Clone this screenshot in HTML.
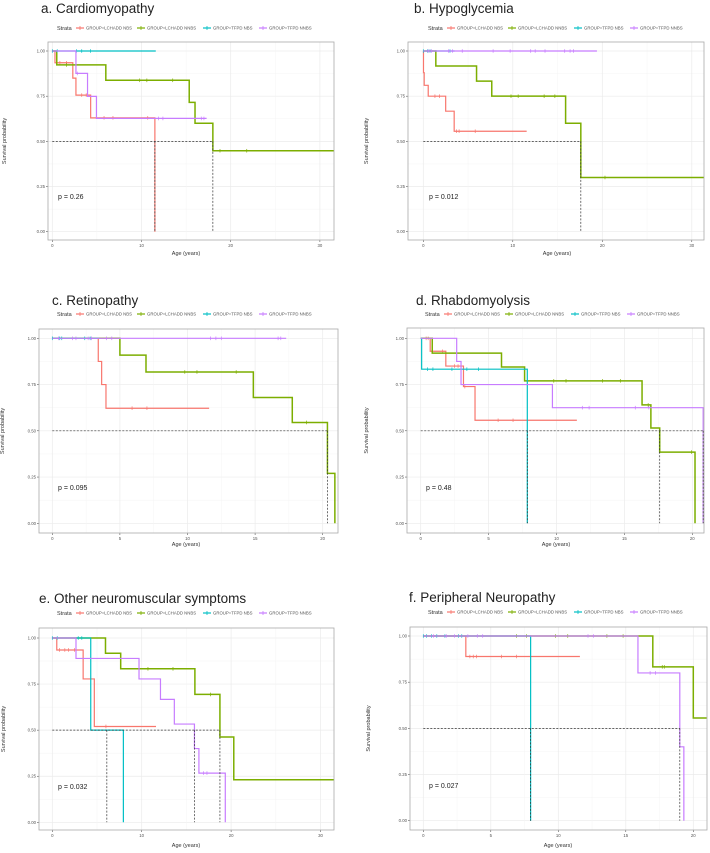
<!DOCTYPE html>
<html><head><meta charset="utf-8"><style>
html,body{margin:0;padding:0;background:#fff;}
svg{display:block;font-family:"Liberation Sans",sans-serif;}
</style></head><body>
<svg id="fig" width="710" height="853" viewBox="0 0 710 853" xmlns="http://www.w3.org/2000/svg"></svg>
<script>
// ---------- data (years / survival probability) ----------
const strataNames = ["GROUP=LCHADD NBS","GROUP=LCHADD NNBS","GROUP=TFPD NBS","GROUP=TFPD NNBS"];
const strataColors = ["#F8766D","#7CAE00","#00BFC4","#C77CFF"];
const titles = ["a. Cardiomyopathy","b. Hypoglycemia","c. Retinopathy","d. Rhabdomyolysis","e. Other neuromuscular symptoms","f. Peripheral Neuropathy"];
const pValues = ["p = 0.26","p = 0.012","p = 0.095","p = 0.48","p = 0.032","p = 0.027"];
const yTicks = [0,0.25,0.5,0.75,1];
const yTickLabels = ["0.00","0.25","0.50","0.75","1.00"];
const xTicksA = [0,10,20,30];
const xTicksB = [0,5,10,15,20];

// panel a
const aTimes = [[0.3,2.3,2.65,4.3,11.5],[0.5,6.0,15.35,16.0,18.0],[],[2.65,3.95,4.95]];
const aSurv  = [[0.935,0.85,0.756,0.63,0],[0.923,0.838,0.716,0.60,0.448],[],[0.876,0.749,0.627]];
const aEnd   = [11.5,31.6,11.6,17.3];
const aCens  = [[0.85,1.6,3.3,3.8,5.8,6.8,10.7],[1.6,9.8,10.6,13.5,18.8,21.8],[0,0.55,2.7,3.3,4.3],[2.8,11.9,12.4,16.7,17.0]];
const aMedH = 18.0, aMedV = [11.5,18.0];
// panel b
const bTimes = [[0.02,0.1,0.55,2.5,3.45],[1.4,5.95,7.65,15.9,17.6],[],[]];
const bSurv  = [[0.88,0.81,0.75,0.667,0.556],[0.917,0.833,0.75,0.6,0.3],[],[]];
const bEnd   = [11.55,31.6,3.5,19.4];
const bCens  = [[1.3,1.8,3.7,4.0,5.8],[9.8,10.6,13.5,14.7,20.3],[0,0.5,0.75,2.98],[0.55,0.9,2.8,3.25,4.35,7.8,9.7,12.0,12.5,13.6,15.8,16.4,16.8]];
const bMedH = 17.6, bMedV = [17.6];
// panel c
const cTimes = [[3.4,3.65,3.97],[5.0,6.93,14.87,17.75,20.35,20.9],[],[]];
const cSurv  = [[0.875,0.75,0.622],[0.909,0.818,0.68,0.545,0.27,0],[],[]];
const cEnd   = [11.6,20.9,3.45,17.3];
const cCens  = [[5.9,7.0],[9.8,10.7,13.6,18.8],[0,0.55,0.7,2.4,2.8],[0.45,1.5,1.75,2.65,2.9,4.0,4.4,11.7,12.1,12.5,16.7,16.9]];
const cMedH = 20.35, cMedV = [20.35];
// panel d
const dTimes = [[0.7,1.85,3.15,4.0],[0.85,5.95,7.65,16.3,16.95,17.6,20.2],[0.07,7.85],[2.65,2.97,9.7,20.8]];
const dSurv  = [[0.93,0.85,0.739,0.557],[0.92,0.845,0.77,0.64,0.515,0.385,0],[0.833,0],[0.875,0.75,0.625,0]];
const dEnd   = [11.5,20.2,7.85,20.8];
const dCens  = [[0.4,0.55,1.6,2.5,2.75,3.25,5.7,6.8],[9.8,10.7,13.4,14.7,16.75,19.95],[0.5,0.9,2.3,3.4,4.25],[11.9,12.4,15.8,16.8]];
const dMedH = 20.8, dMedV = [7.85,17.6,20.8];
// panel e
const eTimes = [[0.5,3.45,4.7],[5.95,7.65,15.95,18.75,20.3],[4.3,7.95],[2.65,9.7,12.1,13.65,15.9,16.4,19.35]];
const eSurv  = [[0.935,0.778,0.52],[0.917,0.833,0.694,0.463,0.231],[0.5,0],[0.889,0.778,0.667,0.533,0.40,0.267,0]];
const eEnd   = [11.6,31.6,7.95,19.35];
const eCens  = [[0.8,1.4,1.8,2.5,6.0],[10.7,13.5,17.7],[0,0.55,2.9,3.3],[16.9,17.3]];
const eMedH = 18.75, eMedV = [6.1,15.9,18.75];
// panel f
const fTimes = [[3.15],[17.0,20.0],[7.95],[15.9,19.0,19.3]];
const fSurv  = [[0.889],[0.833,0.556],[0],[0.8,0.4,0]];
const fEnd   = [11.6,21.0,7.95,19.3];
const fCens  = [[3.45,3.7,3.95,5.8,6.9],[6.9,7.65,9.8,10.7,13.6,14.8,17.7,17.85],[0,0.25,0.6,1.0,1.6,2.6,2.85],[0.75,1.7,2.3,3.3,4.0,4.4,12.2,12.6,16.8,17.2]];
const fMedH = 19.0, fMedV = [7.95,19.0];

// ---------- layout ----------
const panels = [
 {id:"a",times:aTimes,surv:aSurv,end:aEnd,cens:aCens,medH:aMedH,medV:aMedV,xt:xTicksA,
  box:[48,42,334,240],x0:52.3,ppy:8.92,y1:51,y0:231.7,title:[41,13],leg:[57,28],p:[58,199],ytl:6,xtl:[186,255]},
 {id:"b",times:bTimes,surv:bSurv,end:bEnd,cens:bCens,medH:bMedH,medV:bMedV,xt:xTicksA,
  box:[408,42,704,240],x0:423.3,ppy:8.95,y1:51,y0:231.7,title:[414,13],leg:[428,28],p:[429,199],ytl:368,xtl:[557,255]},
 {id:"c",times:cTimes,surv:cSurv,end:cEnd,cens:cCens,medH:cMedH,medV:cMedV,xt:xTicksB,
  box:[39,329,338,533],x0:52.3,ppy:13.52,y1:338.3,y0:523.3,title:[52,305],leg:[57,314],p:[58,490],ytl:4,xtl:[186,546]},
 {id:"d",times:dTimes,surv:dSurv,end:dEnd,cens:dCens,medH:dMedH,medV:dMedV,xt:xTicksB,
  box:[407,328,704,533],x0:420.7,ppy:13.58,y1:338.3,y0:523.3,title:[416,305],leg:[425,314],p:[426,490],ytl:368,xtl:[556,546]},
 {id:"e",times:eTimes,surv:eSurv,end:eEnd,cens:eCens,medH:eMedH,medV:eMedV,xt:xTicksA,
  box:[39,628,334,830],x0:52.3,ppy:8.94,y1:638,y0:822.3,title:[39,603],leg:[57,613],p:[58,789],ytl:5,xtl:[186,847]},
 {id:"f",times:fTimes,surv:fSurv,end:fEnd,cens:fCens,medH:fMedH,medV:fMedV,xt:xTicksB,
  box:[410,627,707,830],x0:423.3,ppy:13.5,y1:636,y0:820.7,title:[409,602],leg:[428,612],p:[429,788],ytl:370,xtl:[558,847]}
];

const NS="http://www.w3.org/2000/svg";
const svg=document.getElementById("fig");
function mk(tag,attrs,parent){const e=document.createElementNS(NS,tag);for(const k in attrs)e.setAttribute(k,attrs[k]);(parent||svg).appendChild(e);return e;}

panels.forEach((P,pi)=>{
  const g=mk("g",{});
  
  
  const X=t=>P.x0+t*P.ppy;
  const Y=s=>P.y0-(P.y0-P.y1)*s;
  const [bx0,by0,bx1,by1]=P.box;
  const clip=mk("clipPath",{id:"clip"+P.id},g);
  mk("rect",{x:bx0,y:by0,width:bx1-bx0,height:by1-by0},clip);

  // title
  const tt=mk("text",{x:P.title[0],y:P.title[1],"font-size":"13.5",fill:"#222"},g);
  tt.textContent=titles[pi];
  
  

  // legend
  const lg=mk("g",{},g);
  
  
  const ly=P.leg[1];
  const st=mk("text",{x:P.leg[0],y:ly+2,"font-size":"5.5",fill:"#333"},lg);st.textContent="Strata";
  const offs=[19,80,146,202];
  strataNames.forEach((n,i)=>{
    const lx=P.leg[0]+offs[i];
    const le=mk("g",{},lg);
    
    
    mk("line",{x1:lx,y1:ly,x2:lx+8,y2:ly,stroke:strataColors[i],"stroke-width":1.2},le);
    mk("line",{x1:lx+4,y1:ly-2,x2:lx+4,y2:ly+2,stroke:strataColors[i],"stroke-width":0.8},le);
    const t=mk("text",{x:lx+10,y:ly+1.6,"font-size":"4.3",fill:"#555"},le);t.textContent=n;
  });

  // panel background + grid
  mk("rect",{x:bx0,y:by0,width:bx1-bx0,height:by1-by0,fill:"#fff"},g);
  const grid=mk("g",{},g);
  
  
  for(let i=0;i<yTicks.length;i++){
    mk("line",{x1:bx0,x2:bx1,y1:Y(yTicks[i]),y2:Y(yTicks[i]),stroke:"#ebebeb","stroke-width":0.7},grid);
    if(i<yTicks.length-1){const m=(yTicks[i]+yTicks[i+1])/2;mk("line",{x1:bx0,x2:bx1,y1:Y(m),y2:Y(m),stroke:"#f4f4f4","stroke-width":0.5},grid);}
  }
  const step=P.xt[1]-P.xt[0];
  for(let v=P.xt[0];X(v)<=bx1+0.1;v+=step/2){
    const major=Math.abs(v/step-Math.round(v/step))<1e-6;
    mk("line",{x1:X(v),x2:X(v),y1:by0,y2:by1,stroke:major?"#ebebeb":"#f4f4f4","stroke-width":major?0.7:0.5},grid);
  }

  // ticks & labels
  yTicks.forEach((v,i)=>{
    mk("line",{x1:bx0-2,x2:bx0,y1:Y(v),y2:Y(v),stroke:"#333","stroke-width":0.5},g);
    const t=mk("text",{x:bx0-3,y:Y(v)+1.5,"font-size":"4.3","text-anchor":"end",fill:"#555"},g);t.textContent=yTickLabels[i];
    
    
  });
  P.xt.forEach(v=>{
    mk("line",{x1:X(v),x2:X(v),y1:by1,y2:by1+2,stroke:"#333","stroke-width":0.5},g);
    const t=mk("text",{x:X(v),y:by1+7,"font-size":"4.3","text-anchor":"middle",fill:"#555"},g);t.textContent=String(v);
    
    
  });
  const xt=mk("text",{x:P.xtl[0],y:P.xtl[1],"font-size":"5.5","text-anchor":"middle",fill:"#333"},g);xt.textContent="Age (years)";
  
  
  const cy=(by0+by1)/2;
  const yt=mk("text",{x:P.ytl,y:cy,"font-size":"5.5","text-anchor":"middle",fill:"#333",transform:`rotate(-90 ${P.ytl} ${cy})`},g);yt.textContent="Survival probability";
  
  

  // curves
  const cg=mk("g",{"clip-path":`url(#clip${P.id})`},g);
  P.times.forEach((ts,i)=>{
    let d=`M${X(0)},${Y(1)}`;let s=1;
    ts.forEach((t,k)=>{d+=` H${X(t)} V${Y(P.surv[i][k])}`;s=P.surv[i][k];});
    d+=` H${X(P.end[i])}`;
    const path=mk("path",{d:d,fill:"none",stroke:strataColors[i],"stroke-width":i===1?1.5:1.2},cg);
    
    
    // censor marks
    P.cens[i].forEach(c=>{
      let sv=1;ts.forEach((t,k)=>{if(t<=c)sv=P.surv[i][k];});
      const m=mk("line",{x1:X(c),x2:X(c),y1:Y(sv)-1.8,y2:Y(sv)+1.8,stroke:strataColors[i],"stroke-width":0.7},cg);
      
      
    });
  });
  // median lines
  const mh=mk("line",{x1:X(0),x2:X(P.medH),y1:Y(0.5),y2:Y(0.5),stroke:"#333","stroke-width":0.7,"stroke-dasharray":"2,1.5"},cg);
  
  
  P.medV.forEach(v=>{
    const l=mk("line",{x1:X(v),x2:X(v),y1:Y(0.5),y2:Y(0),stroke:"#333","stroke-width":0.7,"stroke-dasharray":"2,1.5"},cg);
    
    
  });

  // border
  mk("rect",{x:bx0,y:by0,width:bx1-bx0,height:by1-by0,fill:"none",stroke:"#aaa","stroke-width":0.8},g);

  // p value
  const pt=mk("text",{x:P.p[0],y:P.p[1],"font-size":"7",fill:"#222"},g);pt.textContent=pValues[pi];
  
  
});
</script>
</body></html>
